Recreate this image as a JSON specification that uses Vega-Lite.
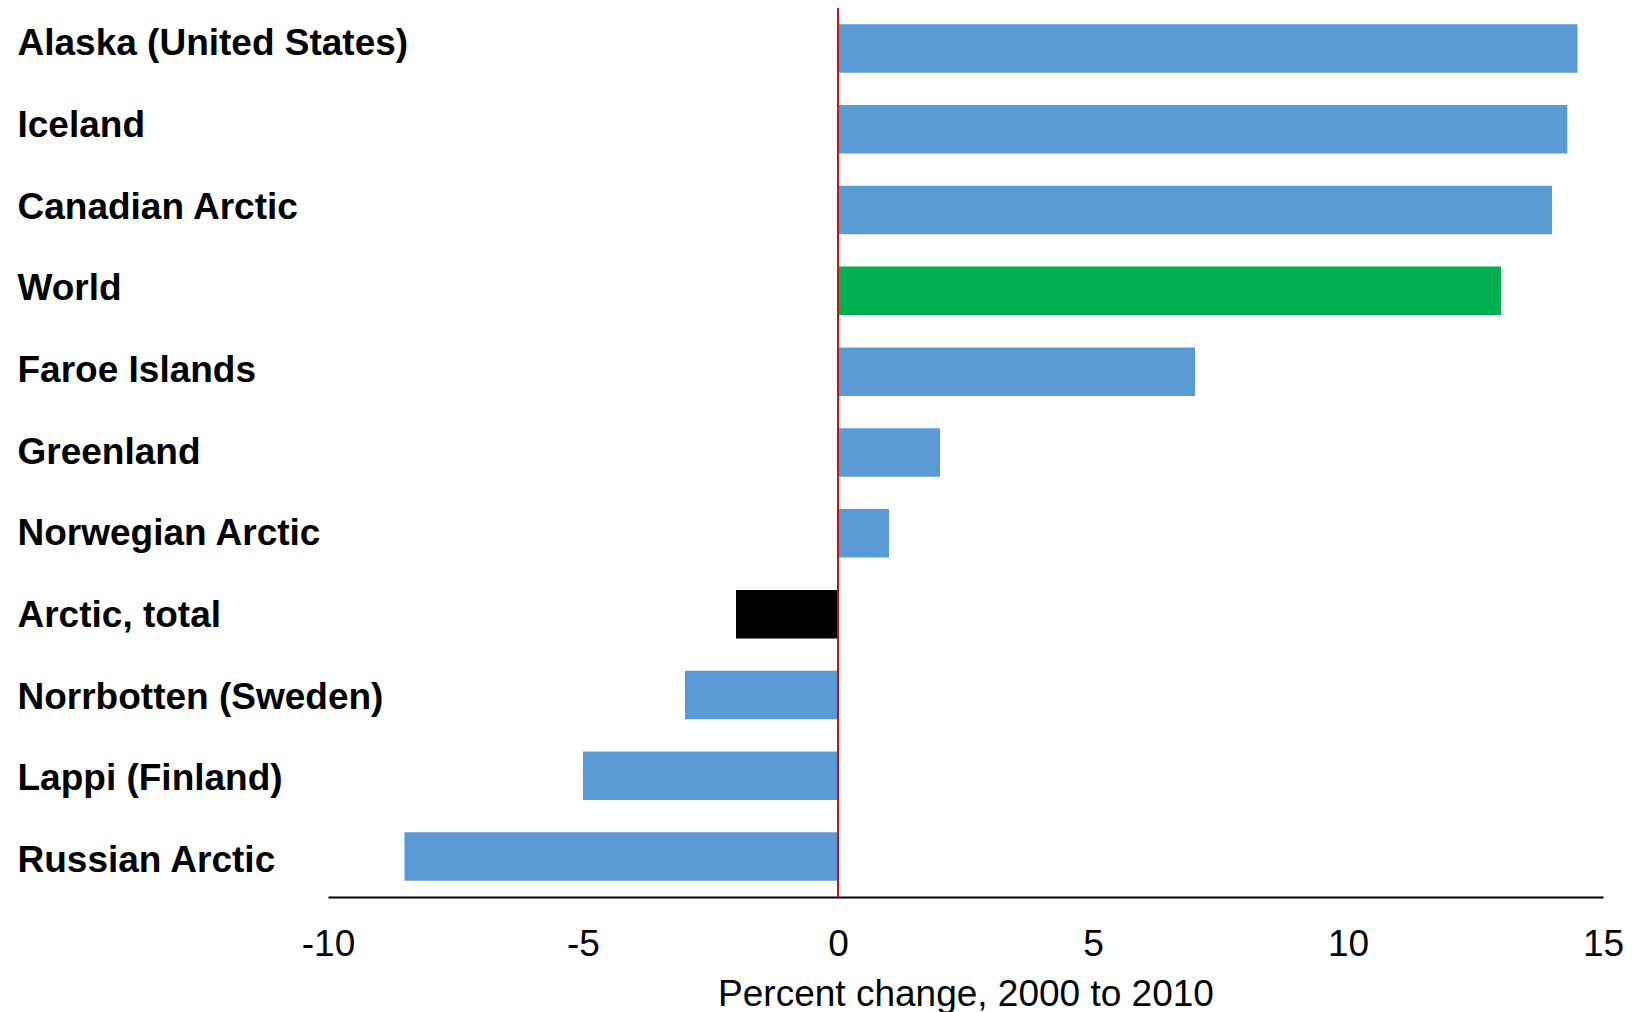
{
  "$schema": "https://vega.github.io/schema/vega-lite/v6.json",
  "autosize": {"type": "none"},
  "width": 1275,
  "height": 889,
  "padding": {"left": 328, "top": 8, "right": 34, "bottom": 115},
  "background": "white",
  "config": {
    "view": {"stroke": null},
    "font": "Liberation Sans"
  },
  "data": {
    "values": [
      {"region": "Alaska (United States)", "change": 14.5, "group": "region"},
      {"region": "Iceland", "change": 14.3, "group": "region"},
      {"region": "Canadian Arctic", "change": 14.0, "group": "region"},
      {"region": "World", "change": 13.0, "group": "world"},
      {"region": "Faroe Islands", "change": 7.0, "group": "region"},
      {"region": "Greenland", "change": 2.0, "group": "region"},
      {"region": "Norwegian Arctic", "change": 1.0, "group": "region"},
      {"region": "Arctic, total", "change": -2.0, "group": "arctic"},
      {"region": "Norrbotten (Sweden)", "change": -3.0, "group": "region"},
      {"region": "Lappi (Finland)", "change": -5.0, "group": "region"},
      {"region": "Russian Arctic", "change": -8.5, "group": "region"}
    ]
  },
  "layer": [
    {
      "mark": {"type": "bar"},
      "encoding": {
        "y": {
          "field": "region",
          "type": "nominal",
          "sort": null,
          "scale": {"paddingInner": 0.4, "paddingOuter": 0.2},
          "axis": null
        },
        "x": {
          "field": "change",
          "type": "quantitative",
          "scale": {"domain": [-10, 15], "nice": false, "zero": false},
          "axis": {
            "values": [-10, -5, 0, 5, 10, 15],
            "labelExpr": "'' + datum.value",
            "grid": false,
            "ticks": false,
            "tickSize": 0,
            "domain": true,
            "domainColor": "#000000",
            "domainWidth": 2,
            "labelFont": "Liberation Sans",
            "labelFontSize": 37,
            "labelColor": "#000000",
            "labelPadding": 29,
            "labelBaseline": "top",
            "labelFlush": false,
            "labelOverlap": false,
            "title": "Percent change, 2000 to 2010",
            "titleFont": "Liberation Sans",
            "titleFontSize": 37,
            "titleFontWeight": "normal",
            "titleColor": "#000000",
            "titlePadding": 14
          }
        },
        "color": {
          "field": "group",
          "type": "nominal",
          "scale": {"domain": ["region", "world", "arctic"], "range": ["#5B9BD5", "#00B050", "#000000"]},
          "legend": null
        }
      }
    },
    {
      "mark": {"type": "rule", "color": "#C81010", "strokeWidth": 2},
      "encoding": {
        "x": {"datum": 0, "type": "quantitative"}
      }
    },
    {
      "mark": {"type": "text", "text": "", "opacity": 0},
      "encoding": {
        "y": {
          "field": "region",
          "type": "nominal",
          "sort": null,
          "scale": {"type": "point", "padding": 0.4427},
          "axis": {
            "orient": "left",
            "title": null,
            "domain": false,
            "ticks": false,
            "tickSize": 0,
            "grid": false,
            "labelAlign": "left",
            "labelBaseline": "alphabetic",
            "labelOffset": 10.8,
            "labelPadding": 311,
            "labelFont": "Liberation Sans",
            "labelFontSize": 37,
            "labelFontWeight": "bold",
            "labelColor": "#000000",
            "labelLimit": 0,
            "labelOverlap": false
          }
        }
      }
    }
  ],
  "resolve": {"scale": {"y": "independent"}, "axis": {"y": "independent"}}
}
